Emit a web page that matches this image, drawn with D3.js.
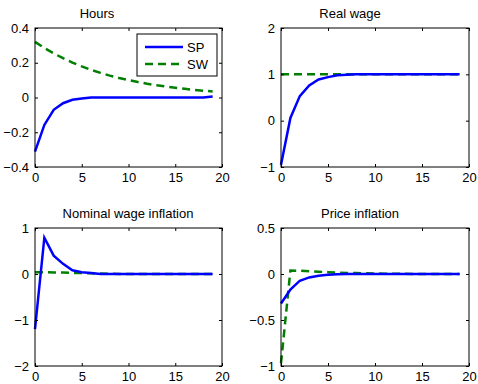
<!DOCTYPE html>
<html>
<head>
<meta charset="utf-8">
<script src="https://cdn.jsdelivr.net/npm/d3@7"></script>
<style>
  body { margin: 0; background: #fff; }
  svg { display: block; font-family: "Liberation Sans", Arial, sans-serif; }
</style>
</head>
<body>
<div id="chart"></div>
<script>
// impulse responses, horizon 0..19
const periods = d3.range(0, 20)

const hoursSP = [-0.312, -0.158, -0.071, -0.033, -0.013, -0.006, 0, 0, 0, 0, 0, 0, 0, 0, 0, 0, 0, 0, 0, 0.006]
const hoursSW = [0.32, 0.285, 0.254, 0.226, 0.201, 0.179, 0.159, 0.142, 0.126, 0.112, 0.100, 0.089, 0.079, 0.071, 0.063, 0.056, 0.050, 0.044, 0.039, 0.035]

const wageSP = [-0.95, 0.06, 0.53, 0.76, 0.89, 0.94, 0.98, 0.99, 1.0, 1.0, 1.0, 1.0, 1.0, 1.0, 1.0, 1.0, 1.0, 1.0, 1.0, 1.0]
const wageSW = [1, 1, 1, 1, 1, 1, 1, 1, 1, 1, 1, 1, 1, 1, 1, 1, 1, 1, 1, 1]

const nomInfSP = [-1.2, 0.79, 0.40, 0.22, 0.08, 0.04, 0.02, 0, 0, 0, 0, 0, 0, 0, 0, 0, 0, 0, 0, 0]
const nomInfSW = [0.04, 0.04, 0.035, 0.03, 0.025, 0.02, 0.015, 0.01, 0.005, 0, 0, 0, 0, 0, 0, 0, 0, 0, 0, 0]

const priceInfSP = [-0.32, -0.17, -0.073, -0.037, -0.019, -0.008, -0.003, 0, 0, 0, 0, 0, 0, 0, 0, 0, 0, 0, 0, 0]
const priceInfSW = [-0.97, 0.038, 0.035, 0.03, 0.025, 0.02, 0.016, 0.012, 0.01, 0.008, 0.006, 0.004, 0.003, 0.002, 0.001, 0, 0, 0, 0, 0]

const titles = ['Hours', 'Real wage', 'Nominal wage inflation', 'Price inflation']
const xTicks = [0, 5, 10, 15, 20]
const yTicks = [
  [-0.4, -0.2, 0, 0.2, 0.4],
  [-1, 0, 1, 2],
  [-2, -1, 0, 1],
  [-1, -0.5, 0, 0.5]
]
const seriesNames = ['SP', 'SW']

const W = 478, H = 384
const svg = d3.select('#chart').append('svg')
  .attr('width', W)
  .attr('height', H)

// panel boxes (pixels) and title centre
const panels = [
  {x0: 35, x1: 222, y0: 28, y1: 167, tx: 97, sp: hoursSP, sw: hoursSW},
  {x0: 281, x1: 469, y0: 28, y1: 167, tx: 350, sp: wageSP, sw: wageSW},
  {x0: 35, x1: 222, y0: 228, y1: 366, tx: 128, sp: nomInfSP, sw: nomInfSW},
  {x0: 281, x1: 469, y0: 228, y1: 366, tx: 360, sp: priceInfSP, sw: priceInfSW}
]

const blue = '#0000ff', green = '#007f00'
const fmt = d3.format('')

panels.forEach(function(p, i) {
  const yt = yTicks[i]
  const x = d3.scaleLinear().domain([0, 20]).range([p.x0, p.x1])
  const y = d3.scaleLinear().domain([yt[0], yt[yt.length - 1]]).range([p.y1, p.y0])

  const g = svg.append('g')

  // lines first, box on top
  const line = function(vals) {
    return d3.line()
      .x(function(d, j) { return x(periods[j]) })
      .y(function(d) { return y(d) })(vals)
  }
  g.append('path').attr('d', line(p.sw))
    .attr('fill', 'none').attr('stroke', green).attr('stroke-width', 2.5)
    .attr('stroke-dasharray', '8,5')
  g.append('path').attr('d', line(p.sp))
    .attr('fill', 'none').attr('stroke', blue).attr('stroke-width', 2.5)

  // axes (ticks inward, mirrored)
  const tickLen = 3
  g.append('g').attr('transform', 'translate(0,' + p.y1 + ')')
    .call(d3.axisBottom(x).tickValues(xTicks).tickSize(-tickLen).tickPadding(6).tickFormat(fmt))
  g.append('g').attr('transform', 'translate(0,' + p.y0 + ')')
    .call(d3.axisTop(x).tickValues(xTicks).tickSize(-tickLen).tickFormat(''))
  g.append('g').attr('transform', 'translate(' + p.x0 + ',0)')
    .call(d3.axisLeft(y).tickValues(yt).tickSize(-tickLen).tickPadding(6).tickFormat(fmt))
  g.append('g').attr('transform', 'translate(' + p.x1 + ',0)')
    .call(d3.axisRight(y).tickValues(yt).tickSize(-tickLen).tickFormat(''))

  g.selectAll('.domain').remove()
  g.selectAll('.tick line').attr('stroke', '#000')
  g.selectAll('.tick text').attr('font-size', 13).attr('fill', '#000')
    .attr('font-family', '"Liberation Sans", Arial, sans-serif')

  g.append('rect')
    .attr('x', p.x0).attr('y', p.y0)
    .attr('width', p.x1 - p.x0).attr('height', p.y1 - p.y0)
    .attr('fill', 'none').attr('stroke', '#000').attr('stroke-width', 1)

  g.append('text')
    .attr('x', p.tx).attr('y', p.y0 - 10)
    .attr('text-anchor', 'middle')
    .attr('font-size', 13)
    .text(titles[i])

  // legend only in first panel
  if (i === 0) {
    const lg = g.append('g').attr('transform', 'translate(137,34)')
    lg.append('rect').attr('width', 80).attr('height', 42)
      .attr('fill', '#fff').attr('stroke', '#000')
    const colors = [blue, green]
    seriesNames.forEach(function(name, k) {
      const ly = 13 + k * 17
      lg.append('line').attr('x1', 8).attr('x2', 46).attr('y1', ly).attr('y2', ly)
        .attr('stroke', colors[k]).attr('stroke-width', 2.5)
        .attr('stroke-dasharray', k === 1 ? '8,5' : null)
      lg.append('text').attr('x', 50).attr('y', ly + 5)
        .attr('font-size', 13).text(name)
    })
  }
})
</script>
</body>
</html>
